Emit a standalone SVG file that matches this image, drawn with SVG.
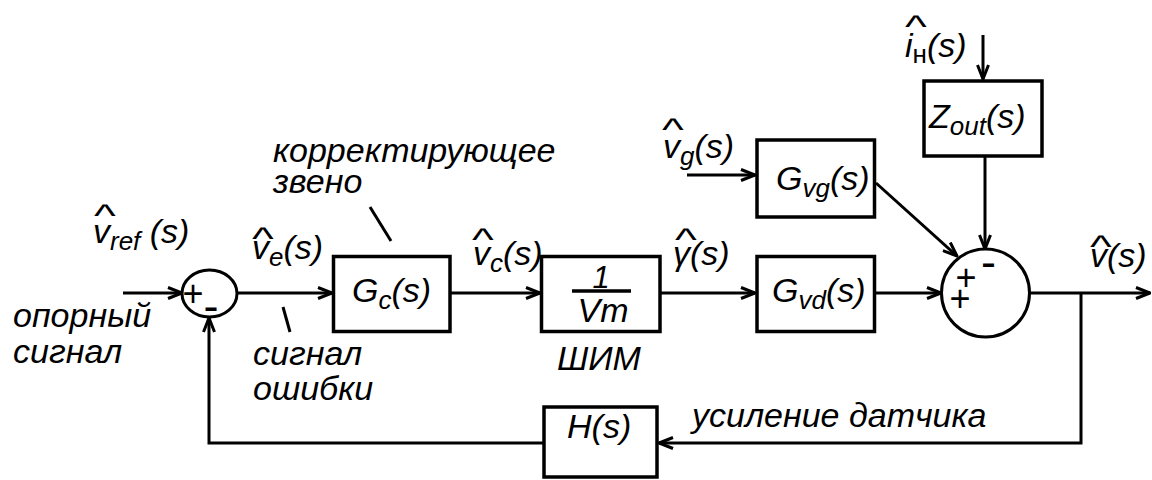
<svg xmlns="http://www.w3.org/2000/svg" width="1152" height="480" viewBox="0 0 1152 480">
<style>
.t{font-family:"Liberation Sans",Arial,sans-serif;font-style:italic;font-size:34px;fill:#000}
.sub{font-size:26px}
.up{font-style:normal}
.hat{font-family:"Liberation Sans",Arial,sans-serif;font-size:32px;text-anchor:middle;fill:#000}
.sign{font-family:"Liberation Sans",Arial,sans-serif;font-size:36px;text-anchor:middle;fill:#000}
.box{fill:#fff;stroke:#000;stroke-width:3.5}
.ln{fill:none;stroke:#000;stroke-width:3}
.arr{marker-end:url(#ah)}
</style>
<defs>
<marker id="ah" viewBox="0 0 16 14" refX="15" refY="7" markerWidth="16" markerHeight="14" markerUnits="userSpaceOnUse" orient="auto">
<path d="M1,1.5 L15,7 L1,12.5" fill="none" stroke="#000" stroke-width="3"/>
</marker>
</defs>
<rect width="1152" height="480" fill="#fff"/>

<g id="connectors">
<line class="ln arr" x1="123" y1="293" x2="182" y2="293"/>
<line class="ln arr" x1="237" y1="293" x2="332" y2="293"/>
<line class="ln arr" x1="451" y1="293" x2="540" y2="293"/>
<line class="ln arr" x1="660" y1="293" x2="755" y2="293"/>
<line class="ln arr" x1="687" y1="175" x2="755" y2="175"/>
<line class="ln arr" x1="876" y1="293" x2="941" y2="293"/>
<line class="ln arr" x1="876" y1="183" x2="957" y2="256"/>
<line class="ln arr" x1="985" y1="156" x2="985" y2="249"/>
<line class="ln arr" x1="983" y1="35" x2="983" y2="79"/>
<line class="ln arr" x1="1030" y1="293" x2="1150" y2="293"/>
<polyline class="ln arr" points="1081,293 1081,443 659,443"/>
<polyline class="ln arr" points="544,443 209,443 209,318"/>
<line class="ln" x1="370" y1="207" x2="391" y2="241"/>
<line class="ln" x1="283" y1="307" x2="290" y2="332"/>
</g>

<g id="sum1">
<ellipse cx="209.5" cy="293.5" rx="27.5" ry="23.5" fill="#fff" stroke="#000" stroke-width="3"/>
<text class="sign" x="193" y="306">+</text>
<text class="sign" x="211" y="321" style="font-size:45px">-</text>
</g>

<g id="sum2">
<circle cx="985.5" cy="293" r="44" fill="#fff" stroke="#000" stroke-width="3"/>
<text class="sign" x="966" y="290">+</text>
<text class="sign" x="960" y="311">+</text>
<text class="sign" x="988.5" y="277" style="font-size:45px">-</text>
</g>

<g id="Gc">
<rect class="box" x="333.5" y="256.5" width="116.5" height="75"/>
<text class="t" x="352" y="302">G<tspan class="sub" dy="7">c</tspan><tspan dy="-7">(s)</tspan></text>
</g>

<g id="PWM">
<rect class="box" x="541.5" y="256.5" width="118.5" height="75"/>
<text class="t" x="601" y="288" text-anchor="middle" style="font-size:31px">1</text>
<line x1="572" y1="291" x2="631" y2="291" stroke="#000" stroke-width="3.5"/>
<text class="t" x="603" y="322" text-anchor="middle">Vm</text>
<text class="t" x="557" y="370">ШИМ</text>
</g>

<g id="Gvg">
<rect class="box" x="757" y="140" width="117.5" height="77"/>
<text class="t" x="776" y="190">G<tspan class="sub" dy="7">vg</tspan><tspan dy="-7">(s)</tspan></text>
</g>

<g id="Gvd">
<rect class="box" x="757" y="256.5" width="117.5" height="75"/>
<text class="t" x="772" y="302">G<tspan class="sub" dy="7">vd</tspan><tspan dy="-7">(s)</tspan></text>
</g>

<g id="Zout">
<rect class="box" x="924" y="81" width="118" height="75"/>
<text class="t" x="929" y="128">Z<tspan class="sub" dy="7">out</tspan><tspan dy="-7">(s)</tspan></text>
</g>

<g id="H">
<rect class="box" x="544" y="407" width="113" height="70"/>
<text class="t" x="567" y="438">H(s)</text>
</g>

<g id="labels">
<text class="t" x="93" y="243">v<tspan class="sub" dy="7">ref</tspan><tspan dy="-7"> (s)</tspan></text>
<text class="hat" transform="translate(105,226) scale(1.45,1)">^</text>
<text class="t" x="252" y="259">v<tspan class="sub" dy="7">e</tspan><tspan dy="-7">(s)</tspan></text>
<text class="hat" transform="translate(263,249) scale(1.45,1)">^</text>
<text class="t" x="473" y="265">v<tspan class="sub" dy="7">c</tspan><tspan dy="-7">(s)</tspan></text>
<text class="hat" transform="translate(483,250) scale(1.45,1)">^</text>
<text class="t" x="673" y="265">γ(s)</text>
<text class="hat" transform="translate(686,250) scale(1.45,1)">^</text>
<text class="t" x="663" y="158">v<tspan class="sub" dy="7">g</tspan><tspan dy="-7">(s)</tspan></text>
<text class="hat" transform="translate(673,140) scale(1.45,1)">^</text>
<text class="t" x="905" y="57">i<tspan class="sub up" dy="6">н</tspan><tspan dy="-6">(s)</tspan></text>
<text class="hat" transform="translate(916,37) scale(1.45,1)">^</text>
<text class="t" x="1090" y="267">v(s)</text>
<text class="hat" transform="translate(1101,257) scale(1.45,1)">^</text>
<text class="t" x="273" y="162">корректирующее</text>
<text class="t" x="273" y="193">звено</text>
<text class="t" x="13" y="327">опорный</text>
<text class="t" x="13" y="363">сигнал</text>
<text class="t" x="253" y="365">сигнал</text>
<text class="t" x="253" y="400">ошибки</text>
<text class="t" x="692" y="427">усиление датчика</text>
</g>
</svg>
